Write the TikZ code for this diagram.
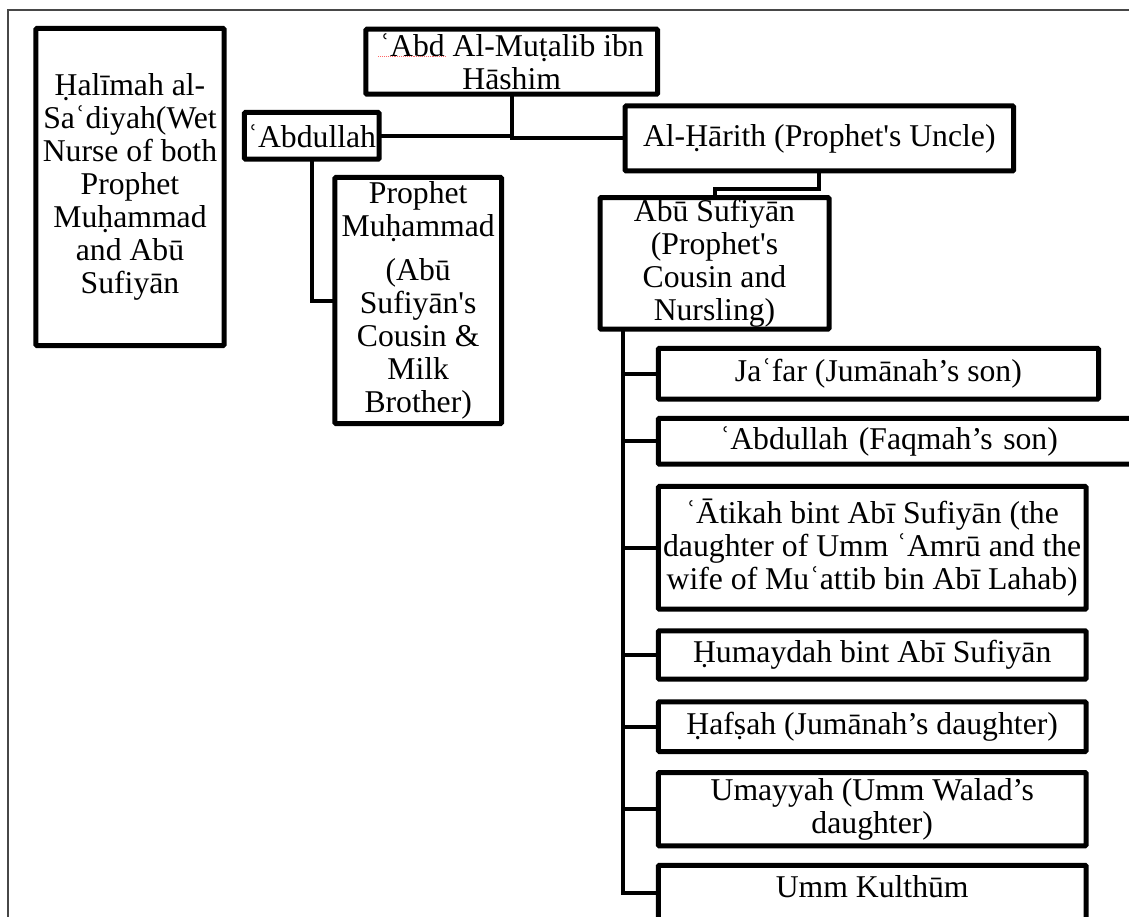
\documentclass[tikz,border=0pt]{standalone}
\usepackage{fontspec}
\setmainfont{Liberation Serif}[Ligatures=TeXOff]
\usetikzlibrary{calc}
\begin{document}
\begin{tikzpicture}[x=1pt, y=-1pt,
  box/.style={draw=black, line width=5pt, fill=white, rounded corners=1pt,
    inner xsep=0pt, inner ysep=0pt, outer sep=0pt, align=center,
    font=\fontsize{31.7pt}{33.1pt}\selectfont},
  link/.style={draw=black, line width=4pt},
  frame/.style={draw=black!72, line width=2pt}]
\useasboundingbox (0,0) rectangle (1129,917);
\clip (0,0) rectangle (1129,917);
\fill[white] (0,0) rectangle (1129,917);

% page frame
\draw[frame] (8,917) -- (8,10) -- (1129,10);

% ancestors and the two cousins
\node[box, minimum width=188.4pt, minimum height=317pt] (hal) at (130,187)
  {Ḥalīmah al-\\Saʿdiyah(Wet\\Nurse of both\\Prophet\\Muḥammad\\and Abū\\Sufiyān};
\node[box, minimum width=291.7pt, minimum height=65pt] (abd) at (511.7,61.7)
  {ʿAbd Al-Muṭalib ibn\\Hāshim};
\node[box, minimum width=134.7pt, minimum height=46.7pt] (abdl) at (311.8,135.8)
  {ʿAbdullah};
\node[box, minimum width=388.5pt, minimum height=65pt] (har) at (819.3,138.5)
  {Al-Ḥārith (Prophet's Uncle)};
\node[box, minimum width=166.7pt, minimum height=246pt] (pro) at (418.2,300.5)
  {Prophet\\Muḥammad\\[11pt](Abū\\Sufiyān's\\Cousin \&\\Milk\\Brother)};
\node[box, minimum width=229pt, minimum height=131.5pt] (abu) at (714.5,263.3)
  {Abū Sufiyān\\(Prophet's\\Cousin and\\Nursling)};

% children of Abū Sufiyān
\node[box, minimum width=440.2pt, minimum height=50.7pt] (c1) at (878.4,373.8)
  {Jaʿfar (Jumānah’s son)};
\node[box, anchor=west, text width=530pt, align=left, minimum height=45.7pt] (c2) at (658.3,441.3)
  {\makebox[461pt][c]{ʿAbdullah (Faqmah’s son)}};
\node[box, minimum width=427.7pt, minimum height=122.7pt] (c3) at (872.2,547.8)
  {ʿĀtikah bint Abī Sufiyān (the\\daughter of Umm ʿAmrū and the\\wife of Muʿattib bin Abī Lahab)};
\node[box, minimum width=427.7pt, minimum height=48.4pt] (c4) at (872.2,655)
  {Ḥumaydah bint Abī Sufiyān};
\node[box, minimum width=427.7pt, minimum height=49.7pt] (c5) at (872.2,726.7)
  {Ḥafṣah (Jumānah’s daughter)};
\node[box, minimum width=427.7pt, minimum height=73.3pt] (c6) at (872.2,809.2)
  {Umayyah (Umm Walad’s\\daughter)};
\node[box, minimum width=427.7pt, text height=32.5pt, text depth=21.9pt] (c7) at (872.2,892.5)
  {Umm Kulthūm};

% spell-check underline under the first word
\draw[red!60, densely dotted, line width=0.9pt]
  ($(abd.center)+(-133.4,-5)$) -- ($(abd.center)+(-66.7,-5)$);

% connectors
\coordinate (spine) at ($(abu.south west)+(23,0)$);
\path[link] (abdl.east) -| (abd.south);
\path[link] (har.west) -| (abd.south);
\path[link] (abdl.south) |- (pro.west);
\path[link] (har.south) -- ++(0,18.5) -| (abu.north);
\foreach \c in {c1,c2,c3,c4,c5,c6,c7}
  \path[link] (\c.west) -| (spine);
\end{tikzpicture}
\end{document}
